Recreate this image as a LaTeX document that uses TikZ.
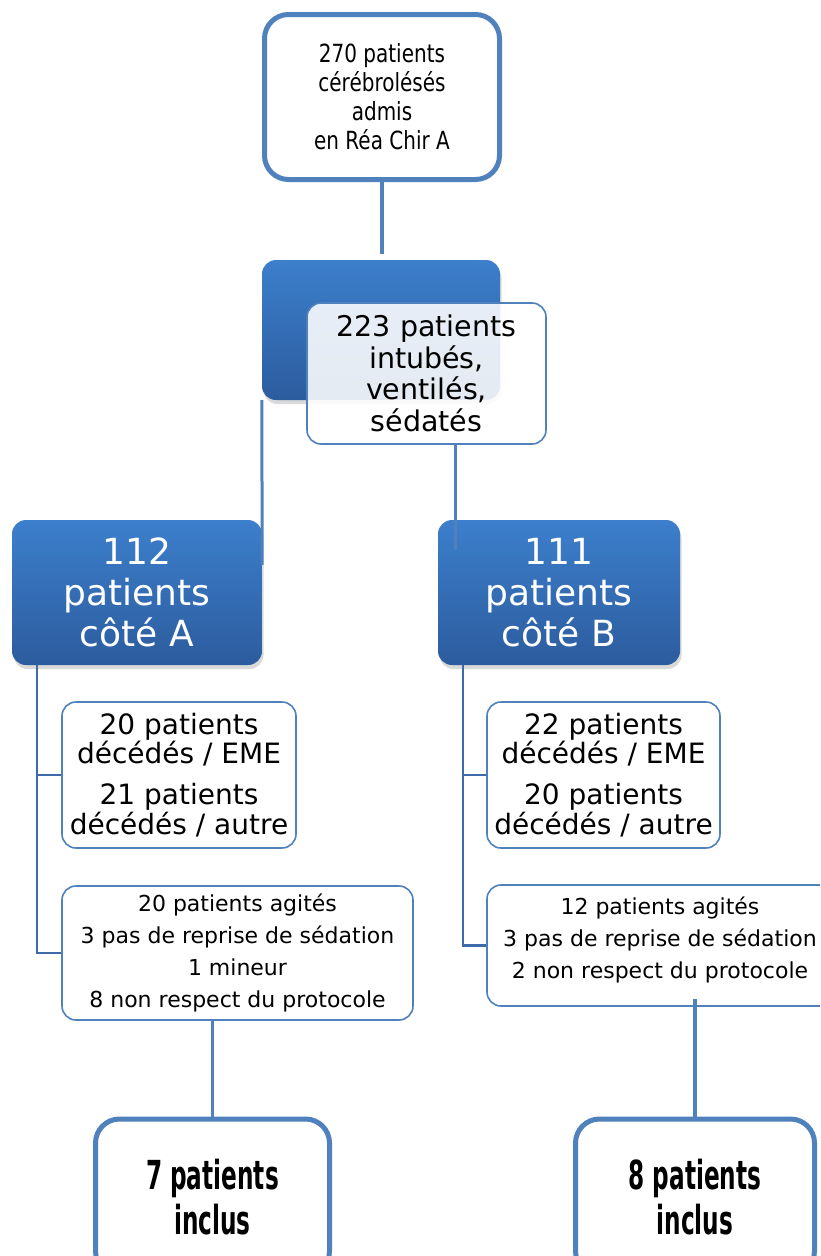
\documentclass[tikz,border=0pt]{standalone}
\usepackage{fontspec}
\setmainfont{DejaVu Sans}
\newfontfamily\narrowfont[FakeStretch=0.8]{DejaVu Sans}
\newfontfamily\squeezefont[FakeStretch=0.58]{DejaVu Sans Bold}
\usepackage{tikz}
\usetikzlibrary{calc,positioning,shadows}
\definecolor{flowblue}{RGB}{79,129,189}
\definecolor{flowtop}{RGB}{60,127,204}
\definecolor{flowbot}{RGB}{44,92,158}
\definecolor{flowdark}{RGB}{62,106,170}
\tikzset{
 flow frame/.style={draw=flowblue,line width=5pt,rounded corners=24pt,
                    fill=white,align=center,inner sep=0pt},
 flow solid/.style={rounded corners=14pt,top color=flowtop,bottom color=flowbot,
                    text=white,align=center,inner sep=0pt,
                    drop shadow={shadow xshift=1.5pt,shadow yshift=-4pt,opacity=.3}},
 flow thin/.style={draw=flowblue,line width=1.6pt,rounded corners=14pt,
                   fill=white,align=center,inner sep=0pt},
 flow link/.style={flowblue,line width=3.5pt},
 flow tree/.style={flowdark,line width=2.2pt}
}

\begin{document}
\begin{tikzpicture}[x=1pt,y=-1pt]
 \useasboundingbox (0,0) rectangle (820,1256);
 \clip (0,0) rectangle (820,1256);
 % top of the chart
 \node[flow frame,minimum width=235pt,minimum height=165pt,
       font={\narrowfont\fontsize{25}{29}\selectfont}] (admis) at (382,97)
   {270 patients\\cérébrolésés\\admis\\en Réa Chir A};
 \node[flow solid,minimum width=238pt,minimum height=140pt] (intub) at (381,330) {};
 \node[flow thin,fill opacity=.88,text opacity=1,minimum width=239pt,
       minimum height=141pt,font={\fontsize{28.5}{31.5}\selectfont}] (intubtxt)
   at (426.5,373.5) {223 patients\\intubés,\\ventilés,\\sédatés};

 % both sides
 \node[flow solid,minimum width=250pt,minimum height=145pt,
       font={\fontsize{36}{41}\selectfont}] (coteA) at (137,592.5)
   {112\\patients\\côté A};
 \node[flow solid,minimum width=242pt,minimum height=145pt,
       font={\fontsize{36}{41}\selectfont}] (coteB) at (559,592.5)
   {111\\patients\\côté B};

 \node[flow thin,minimum width=234pt,minimum height=146pt,
       font={\fontsize{28}{28}\selectfont}] (decA) at (179,775)
   {20 patients\\décédés / EME\\[13pt]21 patients\\décédés / autre};
 \node[flow thin,minimum width=233pt,minimum height=146pt,
       font={\fontsize{28}{28}\selectfont}] (decB) at (603.5,775)
   {22 patients\\décédés / EME\\[13pt]20 patients\\décédés / autre};

 \node[flow thin,minimum width=351pt,minimum height=134pt,
       font={\fontsize{22}{32}\selectfont}] (exclA) at (237.5,953)
   {20 patients agités\\3 pas de reprise de sédation\\1 mineur\\8 non respect du protocole};
 \node[flow thin,minimum width=346pt,minimum height=121pt,
       font={\fontsize{22}{32}\selectfont}] (exclB) at (660,945.5)
   {12 patients agités\\3 pas de reprise de sédation\\2 non respect du protocole\\[-16pt]~};

 \node[flow frame,minimum width=234pt,minimum height=156pt,
       font={\squeezefont\fontsize{40}{45}\selectfont}] (inclA) at (212.5,1197)
   {7 patients\\inclus};
 \node[flow frame,minimum width=239pt,minimum height=156pt,
       font={\squeezefont\fontsize{40}{45}\selectfont}] (inclB) at (695,1197)
   {8 patients\\inclus};

 % connectors
 \coordinate (aEnd) at ($(coteA.north east)+(0,45)$);
 \coordinate (bTop) at ($(intubtxt.south)+(28.5,0)$);
 \coordinate (bEnd) at (bTop |- {(0,550)});
 \coordinate (treeA) at ($(coteA.south west)+(25,0)$);
 \coordinate (treeB) at ($(coteB.south west)+(25,0)$);
 \coordinate (intubTop) at ($(admis.south |- intub.north)+(0,-6)$);
 \coordinate (exclBup) at ($(inclB.north |- exclB.south)+(0,-8)$);

 \draw[flow link,line width=4pt] (admis.south) -- (intubTop);
 \draw[flow link,line width=3pt] (intub.south west) -- (aEnd);
 \draw[flow link,line width=3pt] (bTop) -- (bEnd);
 \draw[flow tree] (treeA) |- (decA.west);
 \draw[flow tree] (treeA) |- (exclA.west);
 \draw[flow tree] (treeB) |- (decB.west);
 \draw[flow tree] (treeB) |- (exclB.west);
 \draw[flow link] (inclA.north) -- (inclA.north |- exclA.south);
 \draw[flow link] (inclB.north) -- (exclBup);
\end{tikzpicture}
\end{document}
